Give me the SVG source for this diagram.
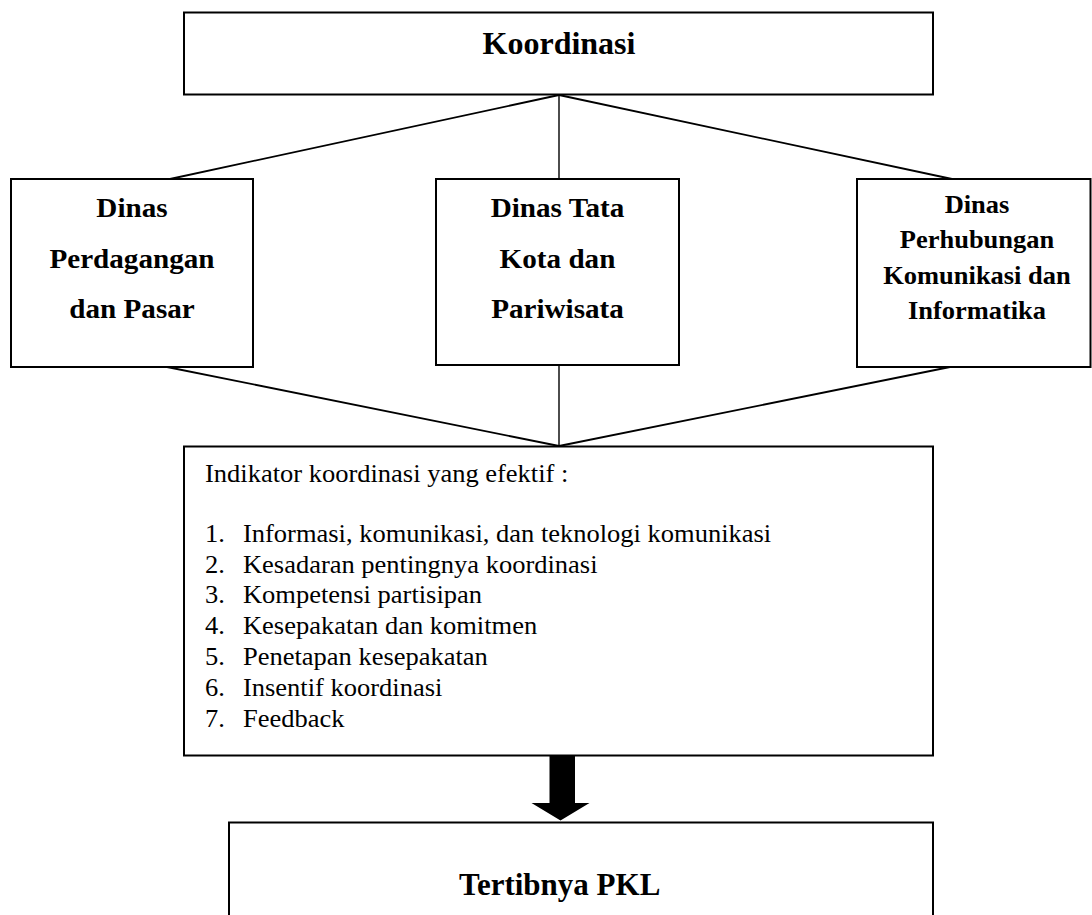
<svg xmlns="http://www.w3.org/2000/svg" width="1092" height="915" viewBox="0 0 1092 915">
<style>
.box{fill:#fff;stroke:#000;stroke-width:2}
.ln{stroke:#000;stroke-width:1.8;fill:none}
.tb{font-family:"Liberation Serif","Times New Roman",serif;font-weight:bold;fill:#000;text-anchor:middle}
.tr{font-family:"Liberation Serif","Times New Roman",serif;fill:#000}
</style>
<rect width="1092" height="915" fill="#fff"/>
<g id="connectors">
<line class="ln" x1="559" y1="95" x2="170" y2="179"/>
<line class="ln" x1="559" y1="95" x2="559" y2="179" style="stroke-width:1.4"/>
<line class="ln" x1="559" y1="95" x2="952" y2="179"/>
<line class="ln" x1="167" y1="367" x2="559" y2="446"/>
<line class="ln" x1="559" y1="365" x2="559" y2="446" style="stroke-width:1.4"/>
<line class="ln" x1="950" y1="367" x2="559" y2="446"/>
<polygon points="549.5,756 575,756 575,803 589.5,803 560.5,820.5 531.5,803 549.5,803" fill="#000"/>
</g>
<g id="koordinasi">
<rect class="box" x="184" y="12.5" width="749" height="82"/>
<text class="tb" x="559" y="53.5" font-size="32">Koordinasi</text>
</g>
<g id="dinas-perdagangan">
<rect class="box" x="11" y="179" width="242" height="188"/>
<g transform="translate(132 0) scale(1.1 1) translate(-132 0)">
<text class="tb" x="132" y="216.7" font-size="26.5">Dinas</text>
<text class="tb" x="132" y="267.7" font-size="26.5">Perdagangan</text>
<text class="tb" x="132" y="317.7" font-size="26.5">dan Pasar</text>
</g>
</g>
<g id="dinas-tata-kota">
<rect class="box" x="436" y="179" width="243" height="186"/>
<g transform="translate(557.5 0) scale(1.1 1) translate(-557.5 0)">
<text class="tb" x="557.5" y="217.3" font-size="26.5">Dinas Tata</text>
<text class="tb" x="557.5" y="268.3" font-size="26.5">Kota dan</text>
<text class="tb" x="557.5" y="318.3" font-size="26.5">Pariwisata</text>
</g>
</g>
<g id="dinas-perhubungan">
<rect class="box" x="857" y="179" width="233.5" height="188"/>
<g transform="translate(977 0) scale(1.08 1) translate(-977 0)">
<text class="tb" x="977" y="213.5" font-size="24.5">Dinas</text>
<text class="tb" x="977" y="248.5" font-size="24.5">Perhubungan</text>
<text class="tb" x="977" y="284" font-size="24.5">Komunikasi dan</text>
<text class="tb" x="977" y="319.5" font-size="24.5">Informatika</text>
</g>
</g>
<g id="indikator">
<rect class="box" x="184" y="446.5" width="749" height="309"/>
<g transform="translate(205 0) scale(1.06 1) translate(-205 0)" font-size="25">
<text class="tr" x="205" y="481.7">Indikator koordinasi yang efektif :</text>
<text class="tr" x="205" y="541.7">1.</text><text class="tr" x="240.8" y="541.7">Informasi, komunikasi, dan teknologi komunikasi</text>
<text class="tr" x="205" y="572.6">2.</text><text class="tr" x="240.8" y="572.6">Kesadaran pentingnya koordinasi</text>
<text class="tr" x="205" y="603.5">3.</text><text class="tr" x="240.8" y="603.5">Kompetensi partisipan</text>
<text class="tr" x="205" y="634.4">4.</text><text class="tr" x="240.8" y="634.4">Kesepakatan dan komitmen</text>
<text class="tr" x="205" y="665.3">5.</text><text class="tr" x="240.8" y="665.3">Penetapan kesepakatan</text>
<text class="tr" x="205" y="696.2">6.</text><text class="tr" x="240.8" y="696.2">Insentif koordinasi</text>
<text class="tr" x="205" y="727.1">7.</text><text class="tr" x="240.8" y="727.1">Feedback</text>
</g>
</g>
<g id="tertibnya-pkl">
<rect class="box" x="229" y="822.5" width="704" height="110"/>
<text class="tb" x="559.7" y="895" font-size="31">Tertibnya PKL</text>
</g>
</svg>
